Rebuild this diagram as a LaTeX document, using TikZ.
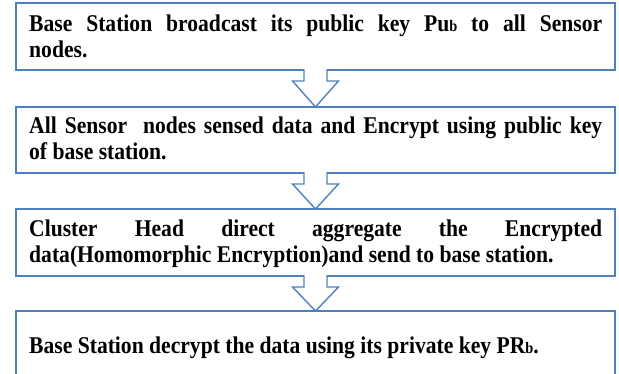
\documentclass[tikz,border=0pt]{standalone}
\usepackage{fontspec}
\setmainfont[FakeStretch=0.9]{Liberation Serif}
\usetikzlibrary{calc}
\definecolor{bl}{HTML}{4F81BD}
\newcommand{\smb}{{\fontsize{16}{16}\selectfont b}}
\begin{document}
\begin{tikzpicture}[x=1pt,y=-1pt,
  box/.style={draw=bl, line width=1.4pt, inner sep=0pt, outer sep=0pt, minimum width=599pt, anchor=north west},
  arr/.style={draw=bl, line width=1.4pt, line join=miter},
  txt/.style={font=\bfseries\fontsize{24}{26}\selectfont, text width=573pt, align=justify, inner sep=0pt, anchor=base west}]
\useasboundingbox (0,0) rectangle (619,374);
\clip (0,0) rectangle (619,374);
\node[box, minimum height=67pt] (b1) at (16,3) {};
\node[box, minimum height=66pt] (b2) at (16,107) {};
\node[box, minimum height=67pt] (b3) at (16,209) {};
\node[box, minimum height=100pt] (b4) at (16,311) {};
\foreach \a/\b in {b1/b2,b2/b3,b3/b4}{
  \fill[white] ($(\a.south)+(-11.5,-2)$) rectangle ($(\a.south)+(11.5,2)$);
  \draw[arr] ($(\a.south)+(-11.5,-0.7)$) -- ($(\a.south)+(-11.5,11)$) -- ($(\a.south)+(-23,11)$)
    -- (\b.north) -- ($(\a.south)+(23,11)$) -- ($(\a.south)+(11.5,11)$) -- ($(\a.south)+(11.5,-0.7)$);
}
\node[txt] (t1) at (29,32) {Base Station broadcast its public key Pu\smb{} to all Sensor\linebreak nodes.};
\node[txt] (t2) at (29,134) {All Sensor\ \ nodes sensed data and Encrypt using public key\linebreak of base station.};
\node[txt] (t3) at (29,237) {Cluster Head direct aggregate the Encrypted\linebreak data(Homomorphic Encryption)and send to base station.};
\node[txt] (t4) at (29,353) {Base Station decrypt the data using its private key PR\smb.};
\end{tikzpicture}
\end{document}
